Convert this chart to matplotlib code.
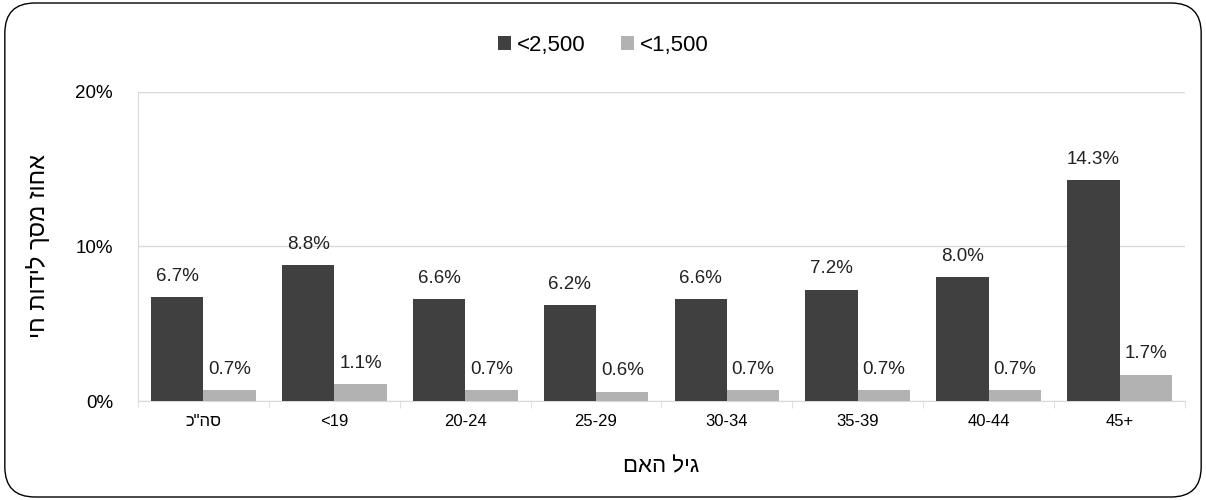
import numpy as np
import matplotlib
matplotlib.use("Agg")
import matplotlib.pyplot as plt
from matplotlib.patches import FancyBboxPatch

# data
categories = ['כ"הס', "<19", "20-24", "25-29", "30-34", "35-39", "40-44", "45+"]  # visual order (RTL reversed)
low_2500 = [6.7, 8.8, 6.6, 6.2, 6.6, 7.2, 8.0, 14.3]
low_1500 = [0.7, 1.1, 0.7, 0.6, 0.7, 0.7, 0.7, 1.7]
series_names = ["<2,500", "<1,500"]
y_ticks = [0, 10, 20]

# hebrew strings reversed for left-to-right drawing
ylabel = "אחוז מסך לידות חי"[::-1]
xlabel = "גיל האם"[::-1]

C_DARK = "#404040"
C_LIGHT = "#b2b2b2"
C_GRID = "#d9d9d9"

plt.rcParams["font.family"] = ["Liberation Sans", "DejaVu Sans"]

fig = plt.figure(figsize=(12.06, 5.0), dpi=100)
ax = fig.add_axes([0.1144, 0.198, 0.8682, 0.618])

# rounded frame round the whole chart
frame = FancyBboxPatch((0.004, 0.006), 0.992, 0.988, boxstyle="round,pad=0,rounding_size=0.025",
                       transform=fig.transFigure, facecolor="none", edgecolor="black", lw=1.0,
                       mutation_aspect=1206 / 500)
fig.patches.append(frame)

x = np.arange(len(categories))
w = 0.4

b1 = ax.bar(x - w / 2, low_2500, width=w, color=C_DARK, label=series_names[0], zorder=3)
b2 = ax.bar(x + w / 2, low_1500, width=w, color=C_LIGHT, label=series_names[1], zorder=3)

for bars, vals in ((b1, low_2500), (b2, low_1500)):
    for r, v in zip(bars, vals):
        ax.annotate(f"{v:.1f}%", (r.get_x() + r.get_width() / 2, v), xytext=(0, 9),
                    textcoords="offset points", ha="center", va="bottom", fontsize=13.5, color="#222222")

ax.set_xlim(-0.5, len(categories) - 0.5)
ax.set_ylim(0, 20)
ax.set_yticks(y_ticks)
ax.set_yticklabels([f"{t}%" for t in y_ticks], fontsize=13.5)
ax.set_xticks(x)
ax.set_xticklabels(categories, fontsize=12)
ax.set_xticks(np.arange(len(categories) + 1) - 0.5, minor=True)
ax.tick_params(axis="x", which="major", length=0, pad=9)
ax.tick_params(axis="x", which="minor", length=5, color=C_GRID)
ax.tick_params(axis="y", length=0, pad=18)

ax.grid(axis="y", color=C_GRID, lw=1, zorder=0)
for s in ("top", "right"):
    ax.spines[s].set_visible(False)
ax.spines["left"].set_color(C_GRID)
ax.spines["bottom"].set_color(C_GRID)

ax.set_ylabel(ylabel, fontsize=17, labelpad=18)
ax.set_xlabel(xlabel, fontsize=16, labelpad=20)

fig.legend(handles=[b1, b2], loc="center", bbox_to_anchor=(0.5, 0.91), ncol=2, frameon=False,
           fontsize=16, handlelength=0.6, handleheight=0.6, handletextpad=0.25, columnspacing=1.6)

fig.savefig("out.png", dpi=100)
